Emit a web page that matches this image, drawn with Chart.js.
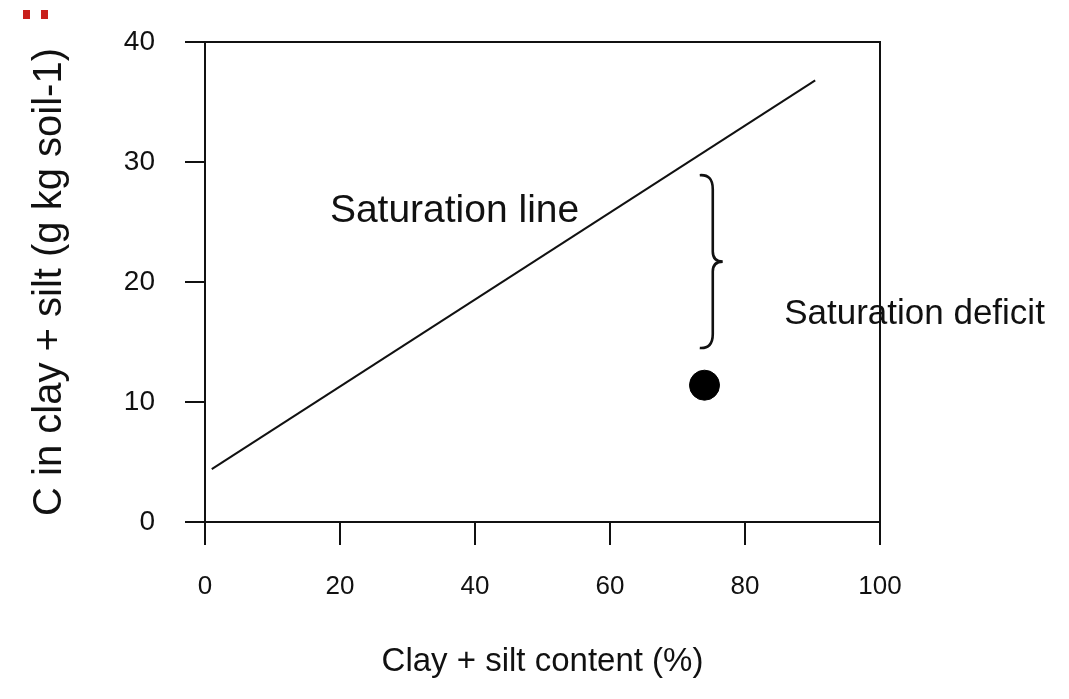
<!DOCTYPE html>
<html>
<head>
<meta charset="utf-8">
<script src="https://cdn.jsdelivr.net/npm/chart.js@4"></script>
<style>
  html, body { margin: 0; padding: 0; background: #fff; }
  #wrap { position: relative; width: 1069px; height: 699px; }
  .mark { position: absolute; top: 10px; width: 7px; height: 9px; background: #c8201c; }
</style>
</head>
<body>
<div id="wrap">
  <span class="mark" style="left:23px"></span>
  <span class="mark" style="left:41px"></span>
  <canvas id="chart" width="1069" height="699"></canvas>
</div>
<script>
// ---- data ----
const lineX = [1, 90.4];
const lineY = [4.4, 36.8];
const pointX = [74];
const pointY = [11.4];
const xTicks = [0, 20, 40, 60, 80, 100];
const yTicks = [0, 10, 20, 30, 40];

// annotations (data units)
const labelText = ["Saturation line", "Saturation deficit"];
const labelX = [18.5, 85.8];
const labelY = [25.9, 17.3];
const labelSize = [39, 35];
const braceX = [73.3, 76.7];       // open end, tip
const braceY = [28.9, 21.7, 14.5]; // top, tip, bottom

const ink = "#111";
const font = "'Liberation Sans', Arial, sans-serif";

// box (top + right lines), brace and text
const extras = {
  id: "extras",
  afterDatasetsDraw(chart) {
    const { ctx, chartArea: a, scales: { x, y } } = chart;
    ctx.save();
    ctx.strokeStyle = ink;
    ctx.lineWidth = 2;
    ctx.beginPath();
    ctx.moveTo(a.left, a.top);
    ctx.lineTo(a.right, a.top);
    ctx.lineTo(a.right, a.bottom);
    ctx.stroke();

    // curly brace
    const xa = x.getPixelForValue(braceX[0]);
    const xt = x.getPixelForValue(braceX[1]);
    const xb = xa + 13;
    const yT = y.getPixelForValue(braceY[0]);
    const yM = y.getPixelForValue(braceY[1]);
    const yB = y.getPixelForValue(braceY[2]);
    ctx.lineWidth = 2.6;
    ctx.beginPath();
    ctx.moveTo(xa, yT);
    ctx.quadraticCurveTo(xb, yT - 1, xb, yT + 14);
    ctx.lineTo(xb, yM - 10);
    ctx.quadraticCurveTo(xb, yM, xt, yM);
    ctx.quadraticCurveTo(xb, yM, xb, yM + 10);
    ctx.lineTo(xb, yB - 14);
    ctx.quadraticCurveTo(xb, yB + 1, xa, yB);
    ctx.stroke();

    ctx.fillStyle = ink;
    ctx.textBaseline = "middle";
    labelText.forEach((t, i) => {
      ctx.font = labelSize[i] + "px " + font;
      ctx.fillText(t, x.getPixelForValue(labelX[i]), y.getPixelForValue(labelY[i]));
    });
    ctx.restore();
  },
};

const noPad = s => { s.paddingTop = 0; s.paddingBottom = 0; s.paddingLeft = 0; s.paddingRight = 0; };

new Chart(document.getElementById("chart"), {
  type: "scatter",
  data: {
    datasets: [
      {
        type: "line",
        data: lineX.map((v, i) => ({ x: v, y: lineY[i] })),
        borderColor: ink,
        borderWidth: 2,
        pointRadius: 0,
        fill: false,
      },
      {
        data: pointX.map((v, i) => ({ x: v, y: pointY[i] })),
        backgroundColor: "#000",
        borderColor: "#000",
        pointRadius: 15,
      },
    ],
  },
  options: {
    responsive: false,
    animation: false,
    layout: { padding: { left: 0, top: 42, right: 189, bottom: 0 } },
    plugins: { legend: { display: false }, tooltip: { enabled: false } },
    scales: {
      x: {
        type: "linear",
        min: 0, max: 100,
        afterBuildTicks: s => { s.ticks = xTicks.map(v => ({ value: v })); },
        afterFit: s => { s.height = 177; noPad(s); },
        grid: { drawOnChartArea: false, drawTicks: true, tickLength: 23, color: ink, lineWidth: 2 },
        border: { display: true, color: ink, width: 2 },
        ticks: { color: ink, font: { family: font, size: 26 }, padding: 26, maxRotation: 0 },
        title: {
          display: true,
          text: "Clay + silt content (%)",
          color: ink,
          font: { family: font, size: 33 },
          padding: { top: 0, bottom: 17 },
        },
      },
      y: {
        type: "linear",
        min: 0, max: 40,
        afterBuildTicks: s => { s.ticks = yTicks.map(v => ({ value: v })); },
        afterFit: s => { s.width = 205; noPad(s); },
        grid: { drawOnChartArea: false, drawTicks: true, tickLength: 20, color: ink, lineWidth: 2 },
        border: { display: true, color: ink, width: 2 },
        ticks: { color: ink, font: { family: font, size: 28 }, padding: 30 },
        title: {
          display: true,
          text: "C in clay + silt (g kg soil-1)",
          color: ink,
          font: { family: font, size: 40 },
          padding: { top: 26, bottom: 0 },
        },
      },
    },
  },
  plugins: [extras],
});
</script>
</body>
</html>
